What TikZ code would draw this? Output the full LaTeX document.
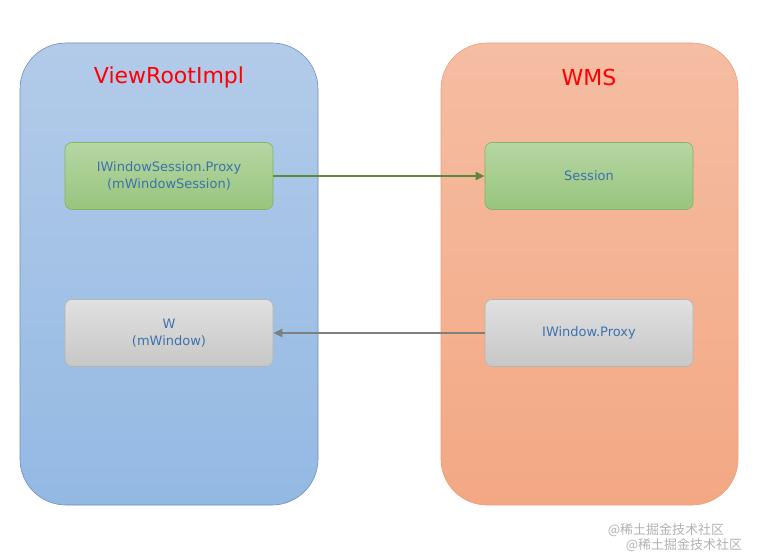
\documentclass[tikz,border=0pt]{standalone}
\usepackage{fontspec}
\setmainfont{DejaVu Sans}
\newfontfamily\cjkfont{Noto Sans CJK SC}
\usetikzlibrary{arrows.meta}
\definecolor{boxblue}{HTML}{6C8EBF}
\definecolor{boxorange}{HTML}{E8A07A}
\definecolor{greenline}{HTML}{82B366}
\definecolor{greyline}{HTML}{B3B3B3}
\definecolor{labelblue}{HTML}{3D72AE}
\definecolor{arrowgreen}{HTML}{5C8A3C}
\definecolor{arrowgrey}{HTML}{7F7F7F}
\definecolor{bluetop}{HTML}{B3CBE9}
\definecolor{bluebot}{HTML}{93B9E3}
\definecolor{orangetop}{HTML}{F5BDA3}
\definecolor{orangebot}{HTML}{F3A883}
\definecolor{greentop}{HTML}{B6D6A2}
\definecolor{greenbot}{HTML}{98C57E}
\tikzset{
  holder/.style={rounded corners=46pt,line width=0.6pt},
  title/.style={text=red,font=\fontsize{22}{24}\selectfont},
  item/.style={draw,rounded corners=7pt,minimum width=208pt,minimum height=67pt,line width=0.6pt,
    align=center,text=labelblue,font=\fontsize{13}{17}\selectfont},
  greenitem/.style={item,draw=greenline,top color=greentop,bottom color=greenbot},
  greyitem/.style={item,draw=greyline,top color=black!12,bottom color=black!22},
  watermark/.style={text=black!30,inner sep=0pt,font=\cjkfont\fontsize{13}{14}\selectfont},
}
\begin{document}
\begin{tikzpicture}[x=1pt,y=-1pt,thick,line join=round,>={Triangle[length=9pt,width=8pt]}]
  \useasboundingbox (0,0) rectangle (761,559);
  \fill[white] (0,0) rectangle (761,559);
  % the two processes
  \draw[holder,draw=boxblue,top color=bluetop,bottom color=bluebot] (20,43) rectangle (318,505);
  \draw[holder,draw=boxorange,top color=orangetop,bottom color=orangebot] (441,43) rectangle (738,505);
  \node[title] (vri) at (169,77) {ViewRootImpl};
  \node[title] (wms) at (589,77) {WMS};
  % binder objects
  \node[greenitem] (proxy) at (169,176) {IWindowSession.Proxy\\(mWindowSession)};
  \node[greenitem] (session) at (589,176) {Session};
  \node[greyitem] (w) at (169,333) {W\\(mWindow)};
  \node[greyitem] (wproxy) at (589,333) {IWindow.Proxy};
  \draw[->,arrowgreen,line width=2pt] (proxy) -- (session);
  \draw[->,arrowgrey,line width=2pt] (wproxy) -- (w);
  % watermark
  \node[watermark] (mark1) at (666,530) {@稀土掘金技术社区};
  \node[watermark] (mark2) at (684,545) {@稀土掘金技术社区};
\end{tikzpicture}
\end{document}
